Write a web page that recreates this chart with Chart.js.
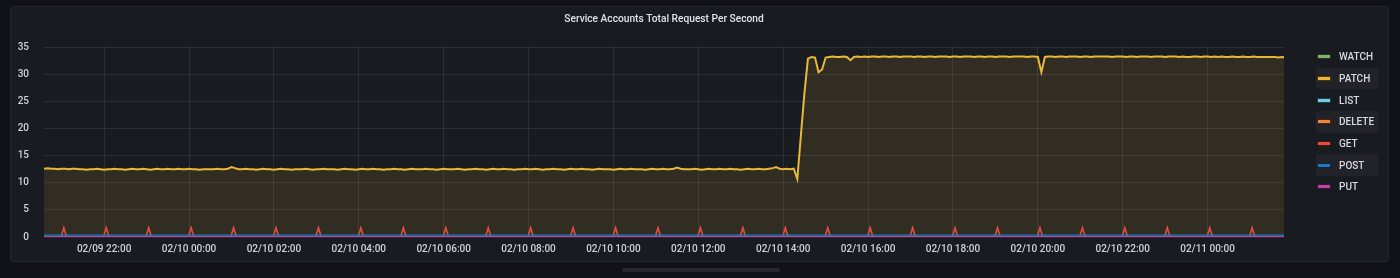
<!DOCTYPE html>
<html>
<head>
<meta charset="utf-8">
<script src="https://cdn.jsdelivr.net/npm/chart.js@4.4.1/dist/chart.umd.min.js"></script>
<style>
  html, body { margin: 0; padding: 0; width: 1400px; height: 278px; overflow: hidden; background: #111217; font-family: Roboto, sans-serif; }
  #panel { position: absolute; left: 10px; top: 6px; width: 1377px; height: 254px; background: #181b1f; border: 1px solid #24262c; border-radius: 3px; }
  #chart { position: absolute; left: 0; top: 0; }
  #legend { position: absolute; left: 1316px; top: 46px; width: 62px; }
  .row { height: 21.7px; display: flex; align-items: center; }
  .row.alt { background: #212328; }
  .sw { width: 12px; height: 3px; border: 1px solid rgba(0,0,0,0.7); border-radius: 1px; margin-left: 1px; margin-right: 8px; }
  .lbl { font-size: 10px; font-weight: 500; color: #d8d9e0; }
  #scroll { position: absolute; left: 622px; top: 268px; width: 158px; height: 4px; border-radius: 2px; background: #26282d; }
</style>
</head>
<body>
<div id="panel"></div>
<canvas id="chart" width="1400" height="278"></canvas>
<div id="legend"></div>
<div id="scroll"></div>
<script>
// x values are minutes since 02/09 00:00
const xMin = 1235;   // 02/09 20:35
const xMax = 2988;   // 02/11 01:48
const xStep = 120;   // tick every 2 hours
const yMax = 35;
const yStep = 5;

const seriesNames = ['WATCH', 'PATCH', 'LIST', 'DELETE', 'GET', 'POST', 'PUT'];
const seriesColors = ['#7EB26D', '#EAB839', '#6ED0E0', '#EF843C', '#E24D42', '#1F78C1', '#BA43A9'];

// PATCH sampled every 5 minutes from 20:35, one row per hour
const patchStart = 1235;
const patchStep = 5;
const patchValues = [
  12.6, 12.7, 12.6, 12.6, 12.5, 12.6, 12.6, 12.5, 12.6, 12.6, 12.5, 12.5,
  12.4, 12.5, 12.5, 12.6, 12.5, 12.4, 12.5, 12.5, 12.6, 12.5, 12.5, 12.4,
  12.5, 12.6, 12.5, 12.5, 12.6, 12.5, 12.4, 12.5, 12.6, 12.5, 12.5, 12.6,
  12.5, 12.5, 12.6, 12.5, 12.5, 12.6, 12.5, 12.5, 12.4, 12.5, 12.5, 12.5,
  12.5, 12.6, 12.5, 12.5, 12.6, 12.9, 12.7, 12.5, 12.5, 12.6, 12.5, 12.5,
  12.4, 12.5, 12.6, 12.5, 12.5, 12.4, 12.5, 12.6, 12.5, 12.5, 12.4, 12.5,
  12.5, 12.5, 12.6, 12.5, 12.4, 12.5, 12.5, 12.6, 12.5, 12.5, 12.5, 12.4,
  12.5, 12.6, 12.5, 12.5, 12.4, 12.5, 12.6, 12.5, 12.5, 12.6, 12.5, 12.5,
  12.4, 12.5, 12.5, 12.6, 12.5, 12.5, 12.4, 12.5, 12.6, 12.5, 12.5, 12.5,
  12.6, 12.5, 12.5, 12.4, 12.5, 12.6, 12.5, 12.5, 12.5, 12.6, 12.5, 12.4,
  12.5, 12.5, 12.6, 12.5, 12.5, 12.4, 12.5, 12.6, 12.5, 12.5, 12.6, 12.5,
  12.5, 12.4, 12.5, 12.5, 12.6, 12.5, 12.5, 12.6, 12.5, 12.4, 12.5, 12.5,
  12.6, 12.5, 12.5, 12.4, 12.5, 12.6, 12.5, 12.5, 12.6, 12.5, 12.5, 12.4,
  12.5, 12.6, 12.5, 12.5, 12.5, 12.4, 12.5, 12.6, 12.5, 12.5, 12.6, 12.5,
  12.5, 12.5, 12.4, 12.5, 12.6, 12.5, 12.5, 12.6, 12.5, 12.5, 12.6, 12.8,
  12.6, 12.5, 12.5, 12.5, 12.6, 12.5, 12.4, 12.5, 12.6, 12.5, 12.5, 12.6,
  12.5, 12.5, 12.6, 12.5, 12.5, 12.4, 12.5, 12.6, 12.5, 12.5, 12.6, 12.5,
  12.5, 12.6, 12.7, 12.9, 12.6, 12.5, 12.6, 12.5, 12.6, 10.7, 18.7, 26.5,
  32.9, 33.2, 33.1, 30.4, 30.9, 33.1, 33.2, 33.3, 33.2, 33.2, 33.3, 33.2,
  32.6, 33.2, 33.3, 33.2, 33.3, 33.2, 33.3, 33.3, 33.2, 33.3, 33.3, 33.2,
  33.3, 33.3, 33.2, 33.3, 33.3, 33.3, 33.2, 33.3, 33.3, 33.2, 33.3, 33.3,
  33.2, 33.3, 33.3, 33.3, 33.2, 33.3, 33.3, 33.2, 33.3, 33.3, 33.3, 33.2,
  33.3, 33.3, 33.2, 33.3, 33.3, 33.2, 33.3, 33.3, 33.3, 33.2, 33.3, 33.3,
  33.3, 33.3, 33.2, 33.3, 33.3, 33.2, 30.4, 33.2, 33.3, 33.3, 33.2, 33.3,
  33.3, 33.2, 33.3, 33.3, 33.3, 33.2, 33.3, 33.3, 33.2, 33.3, 33.3, 33.3,
  33.3, 33.3, 33.2, 33.3, 33.3, 33.3, 33.2, 33.3, 33.3, 33.2, 33.3, 33.3,
  33.3, 33.2, 33.3, 33.3, 33.3, 33.2, 33.3, 33.3, 33.3, 33.2, 33.3, 33.2,
  33.2, 33.3, 33.3, 33.2, 33.3, 33.3, 33.2, 33.3, 33.2, 33.3, 33.2, 33.2,
  33.3, 33.2, 33.2, 33.3, 33.2, 33.2, 33.3, 33.2, 33.2, 33.2, 33.2, 33.2,
  33.2, 33.1, 33.2, 33.1
];

// GET: small hourly spikes at hh:03
const getTimes = [
  1235,
  1259, 1263, 1267,  1319, 1323, 1327,  1379, 1383, 1387,  1439, 1443, 1447,
  1499, 1503, 1507,  1559, 1563, 1567,  1619, 1623, 1627,  1679, 1683, 1687,
  1739, 1743, 1747,  1799, 1803, 1807,  1859, 1863, 1867,  1919, 1923, 1927,
  1979, 1983, 1987,  2039, 2043, 2047,  2099, 2103, 2107,  2159, 2163, 2167,
  2219, 2223, 2227,  2279, 2283, 2287,  2339, 2343, 2347,  2399, 2403, 2407,
  2459, 2463, 2467,  2519, 2523, 2527,  2579, 2583, 2587,  2639, 2643, 2647,
  2699, 2703, 2707,  2759, 2763, 2767,  2819, 2823, 2827,  2879, 2883, 2887,
  2939, 2943, 2947,
  2988
];
const getValues = [
  0,
  0, 1.7, 0,  0, 1.7, 0,  0, 1.7, 0,  0, 1.7, 0,
  0, 1.7, 0,  0, 1.7, 0,  0, 1.7, 0,  0, 1.7, 0,
  0, 1.7, 0,  0, 1.7, 0,  0, 1.7, 0,  0, 1.7, 0,
  0, 1.7, 0,  0, 1.7, 0,  0, 1.7, 0,  0, 1.7, 0,
  0, 1.7, 0,  0, 1.7, 0,  0, 1.7, 0,  0, 1.7, 0,
  0, 1.7, 0,  0, 1.7, 0,  0, 1.7, 0,  0, 1.7, 0,
  0, 1.7, 0,  0, 1.7, 0,  0, 1.7, 0,  0, 1.7, 0,
  0, 1.7, 0,
  0
];

// flat series
const flatTimes = [1235, 2988];
const watchValues = [0, 0];
const listValues = [0, 0];
const deleteValues = [0, 0];
const postValues = [0.35, 0.35];
const putValues = [0, 0];

function pts(times, values) {
  return values.map((v, i) => ({ x: times[i], y: v }));
}
const patchTimes = patchValues.map((v, i) => patchStart + i * patchStep);

function fmtTime(v) {
  const day = 9 + Math.floor(v / 1440);
  const m = v % 1440;
  const hh = String(Math.floor(m / 60)).padStart(2, '0');
  const mm = String(m % 60).padStart(2, '0');
  return '02/' + String(day).padStart(2, '0') + ' ' + hh + ':' + mm;
}

const seriesData = [
  pts(flatTimes, watchValues),
  pts(patchTimes, patchValues),
  pts(flatTimes, listValues),
  pts(flatTimes, deleteValues),
  pts(getTimes, getValues),
  pts(flatTimes, postValues),
  pts(flatTimes, putValues)
];
const lineWidths = [1.5, 2, 1.5, 1.5, 1.6, 1.2, 2.2];

const datasets = seriesNames.map((name, i) => ({
  label: name,
  data: seriesData[i],
  borderColor: seriesColors[i],
  backgroundColor: name === 'PATCH' ? 'rgba(234,184,57,0.12)' : seriesColors[i],
  fill: name === 'PATCH' ? 'origin' : false,
  borderWidth: lineWidths[i],
  pointRadius: 0,
  tension: 0,
  order: seriesNames.length - i
}));

const gridColor = 'rgba(204,204,220,0.11)';
const tickFont = { family: 'Roboto', size: 10, weight: '500' };

new Chart(document.getElementById('chart'), {
  type: 'line',
  data: { datasets },
  options: {
    responsive: false,
    animation: false,
    devicePixelRatio: 1,
    layout: { padding: { left: 0, right: 116, top: 6, bottom: 17 } },
    plugins: {
      legend: { display: false },
      tooltip: { enabled: false },
      title: {
        display: true,
        fullSize: false,
        text: 'Service Accounts Total Request Per Second',
        color: '#e0e1e6',
        font: { family: 'Roboto', size: 10.2, weight: '500' },
        padding: { top: 7, bottom: 22 }
      }
    },
    scales: {
      x: {
        type: 'linear',
        min: xMin,
        max: xMax,
        border: { display: false },
        grid: { color: gridColor, drawTicks: false },
        ticks: {
          stepSize: xStep,
          includeBounds: false,
          autoSkip: false,
          maxRotation: 0,
          padding: 6,
          color: '#d0d1dc',
          font: tickFont,
          callback: v => fmtTime(v)
        }
      },
      y: {
        min: 0,
        max: yMax,
        afterFit: s => { s.width = 44; },
        border: { display: false },
        grid: { color: gridColor, drawTicks: false },
        ticks: {
          stepSize: yStep,
          padding: 15,
          color: '#d0d1dc',
          font: tickFont
        }
      }
    }
  }
});

// legend
const legend = document.getElementById('legend');
seriesNames.forEach((name, i) => {
  const row = document.createElement('div');
  row.className = 'row' + (i % 2 === 1 ? ' alt' : '');
  row.innerHTML = `<div class="sw" style="background:${seriesColors[i]}"></div><span class="lbl">${name}</span>`;
  legend.appendChild(row);
});
</script>
</body>
</html>
